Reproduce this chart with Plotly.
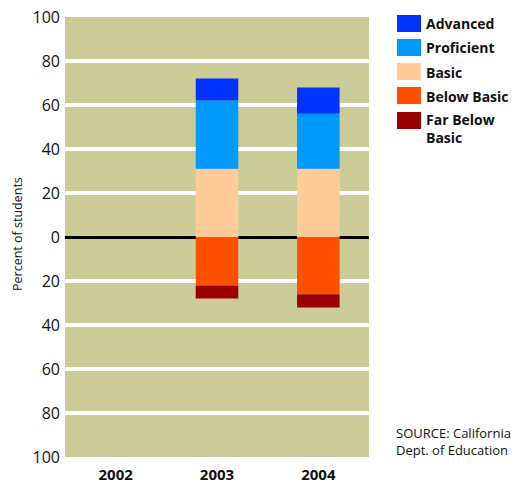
import plotly.graph_objects as go

# Test score distribution by year
years = ["2002", "2003", "2004"]
levels = ["Advanced", "Proficient", "Basic", "Below Basic", "Far Below Basic"]
advanced = [None, 10, 12]
proficient = [None, 31, 25]
basic = [None, 31, 31]
below_basic = [None, 22, 26]
far_below_basic = [None, 6, 6]

colors = {
    "Advanced": "#0033FF",
    "Proficient": "#0099FF",
    "Basic": "#FFCC99",
    "Below Basic": "#FF5000",
    "Far Below Basic": "#990000",
}

y_ticks = [-100, -80, -60, -40, -20, 0, 20, 40, 60, 80, 100]
y_tick_text = [str(abs(v)) for v in y_ticks]

W, H = 519, 483
L, R, T, B = 65, 150, 17, 26
PW, PH = W - L - R, H - T - B


def px(x):
    return (x - L) / PW


def py(y):
    return (H - B - y) / PH


FONT = "Open Sans"

fig = go.Figure()

# positive stack (up from zero) then negative stack (down from zero)
stack = [
    ("Basic", basic, 1),
    ("Proficient", proficient, 1),
    ("Advanced", advanced, 1),
    ("Below Basic", below_basic, -1),
    ("Far Below Basic", far_below_basic, -1),
]
for name, vals, sign in stack:
    fig.add_trace(go.Bar(
        x=years,
        y=[None if v is None else sign * v for v in vals],
        name=name,
        marker=dict(color=colors[name], line=dict(width=0)),
        width=0.42,
        showlegend=False,
        hoverinfo="skip",
    ))

fig.update_layout(
    width=W, height=H,
    margin=dict(l=L, r=R, t=T, b=B, pad=0, autoexpand=False),
    barmode="relative",
    paper_bgcolor="white",
    plot_bgcolor="#CCCC99",
    font=dict(family=FONT, color="#111111"),
    xaxis=dict(
        categoryorder="array", categoryarray=years,
        showgrid=False, ticks="", showline=False, zeroline=False,
        tickfont=dict(size=15, family=FONT, weight="bold"),
        ticklabelstandoff=7,
        automargin=False,
    ),
    yaxis=dict(
        range=[-100, 100],
        tickvals=y_ticks, ticktext=y_tick_text,
        tickfont=dict(size=16, family=FONT),
        showgrid=True, gridcolor="white", gridwidth=3.5,
        zeroline=True, zerolinecolor="black", zerolinewidth=2.5,
        ticks="", showline=False,
        ticklabelstandoff=4,
        automargin=False,
    ),
)

annotations = [
    dict(text="Percent of students", x=px(17), y=py(234), xref="paper", yref="paper",
         textangle=-90, showarrow=False, xanchor="center", yanchor="middle",
         font=dict(size=12.5, family=FONT)),
    dict(text="SOURCE: California<br>Dept. of Education", x=px(394), y=py(441),
         xref="paper", yref="paper", showarrow=False, xanchor="left", yanchor="middle",
         align="left", font=dict(size=13, family=FONT)),
]

# legend swatches
legend_rows = [
    ("Advanced", 15, 32, "Advanced", 24),
    ("Proficient", 39, 56, "Proficient", 48),
    ("Basic", 63, 80, "Basic", 72),
    ("Below Basic", 87, 104, "Below Basic", 96),
    ("Far Below Basic", 112, 129, "Far Below<br>Basic", 128),
]
shapes = []
for key, y0, y1, label, yc in legend_rows:
    shapes.append(dict(type="rect", xref="paper", yref="paper",
                       x0=px(397), x1=px(421), y0=py(y1), y1=py(y0),
                       fillcolor=colors[key], line=dict(width=0)))
    annotations.append(dict(text=label, x=px(424), y=py(yc), xref="paper", yref="paper",
                            showarrow=False, xanchor="left", yanchor="middle", align="left",
                            font=dict(size=14, family=FONT, weight="bold")))

fig.update_layout(annotations=annotations, shapes=shapes)

fig.write_html("out.html")
